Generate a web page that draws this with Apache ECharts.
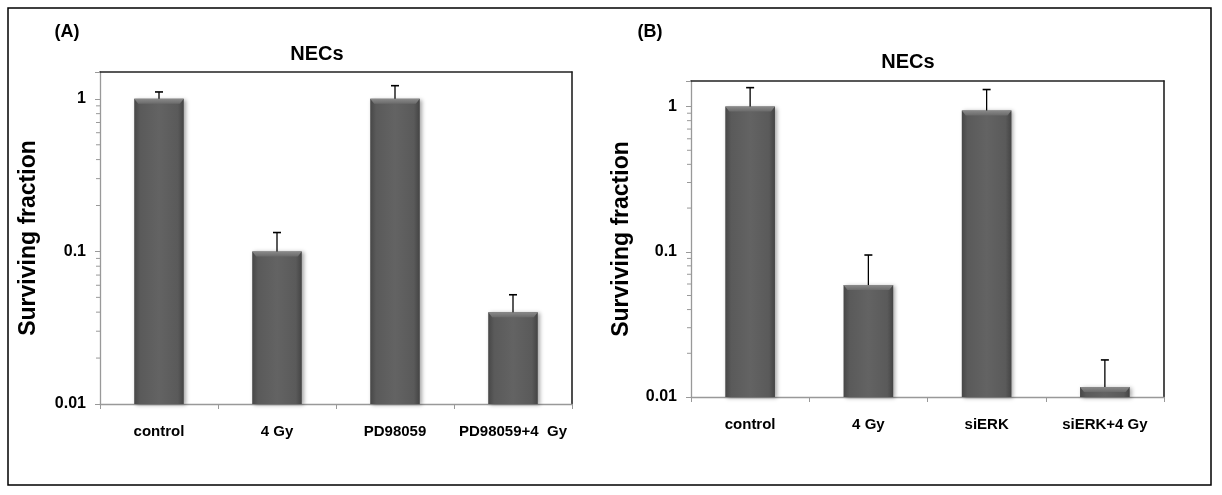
<!DOCTYPE html>
<html><head><meta charset="utf-8">
<script src="https://cdn.jsdelivr.net/npm/echarts@6/dist/echarts.min.js"></script>
<style>html,body{margin:0;padding:0;background:#fff}#c{width:1222px;height:495px}</style>
</head><body><div id="c"></div>
<script>
// ---- data ----
const categoriesA = ['control', '4 Gy', 'PD98059', 'PD98059+4  Gy'];
const valuesA = [1.0, 0.1, 1.0, 0.04];
const errTopA = [1.11, 0.133, 1.22, 0.052];

const categoriesB = ['control', '4 Gy', 'siERK', 'siERK+4 Gy'];
const valuesB = [1.0, 0.059, 0.94, 0.0117];
const errTopB = [1.35, 0.095, 1.31, 0.018];

const yTickLabels = ['0.01', '0.1', '1'];
const minorTickValues = [0.02, 0.03, 0.04, 0.05, 0.06, 0.07, 0.08, 0.09,
                         0.2, 0.3, 0.4, 0.5, 0.6, 0.7, 0.8, 0.9];
const yMin = 0.01, yMax = 1.5;
const panelTitles = ['NECs', 'NECs'];
const panelLetters = ['(A)', '(B)'];
const yAxisName = 'Surviving fraction';

// ---- helpers ----
const FONT = "Liberation Sans";
function fmtLog(v) {
  for (const s of yTickLabels) {
    const n = parseFloat(s);
    if (Math.abs(v - n) / n < 1e-6) return s;
  }
  return '';
}
const barColor = {
  type: 'linear', x: 0, y: 0, x2: 1, y2: 0,
  colorStops: [
    { offset: 0, color: '#474747' },
    { offset: 0.12, color: '#5a5a5a' },
    { offset: 0.5, color: '#636363' },
    { offset: 0.88, color: '#5a5a5a' },
    { offset: 1, color: '#444444' }
  ]
};
function errRender(params, api) {
  const i = api.value(0), v = api.value(1), t = api.value(2);
  const p0 = api.coord([i, v]);
  const p1 = api.coord([i, t]);
  const cap = 4;
  return { type: 'group', children: [
    { type: 'line', shape: { x1: p0[0], y1: p0[1], x2: p1[0], y2: p1[1] }, style: { stroke: '#000', lineWidth: 1.3 } },
    { type: 'line', shape: { x1: p1[0] - cap, y1: p1[1], x2: p1[0] + cap, y2: p1[1] }, style: { stroke: '#000', lineWidth: 1.6 } }
  ] };
}
// light bevel on the top of each bar
function bevelRender(params, api) {
  const i = api.value(0), v = api.value(1);
  const p = api.coord([i, v]);
  const w = api.size([1, 0])[0] * 0.42;
  const h = Math.min(5, api.coord([i, yMin])[1] - p[1]);
  return { type: 'polygon', shape: { points: [[p[0] - w / 2, p[1]], [p[0] + w / 2, p[1]], [p[0] + w / 2 - 4, p[1] + h], [p[0] - w / 2 + 4, p[1] + h]] },
    style: { fill: { type: 'linear', x: 0, y: 0, x2: 0, y2: 1, colorStops: [{ offset: 0, color: '#8a8a8a' }, { offset: 1, color: '#6a6a6a' }] } } };
}
function minorRender(params, api) {
  const v = api.value(1);
  const p = api.coord([0, v]);
  const half = api.size([1, 0])[0] / 2;
  const x = p[0] - half;
  return { type: 'line', shape: { x1: x - 4, y1: p[1], x2: x, y2: p[1] }, style: { stroke: '#999', lineWidth: 1 } };
}

const grids = [
  { left: 100, top: 72, width: 472, height: 332, nameGap: 60 },
  { left: 691, top: 81, width: 473, height: 316, nameGap: 58 }
];
const cats = [categoriesA, categoriesB];
const vals = [valuesA, valuesB];
const errs = [errTopA, errTopB];

const option = {
  animation: false,
  backgroundColor: '#fff',
  grid: grids.map(g => ({ left: g.left, top: g.top, width: g.width, height: g.height, containLabel: false })),
  xAxis: [],
  yAxis: [],
  series: [],
  graphic: []
};

grids.forEach((g, k) => {
  option.xAxis.push({
    type: 'category', gridIndex: k, data: cats[k], position: 'bottom',
    axisLine: { lineStyle: { color: '#999', width: 1.3 } },
    axisTick: { show: true, length: 5, lineStyle: { color: '#999' } },
    axisLabel: { color: '#000', fontFamily: FONT, fontWeight: 'bold', fontSize: 15, margin: 20, interval: 0 },
    splitLine: { show: false }
  });
  option.xAxis.push({
    type: 'category', gridIndex: k, data: cats[k], position: 'top',
    axisLine: { lineStyle: { color: '#222', width: 1.6 } },
    axisTick: { show: false }, axisLabel: { show: false }, splitLine: { show: false }
  });
  option.yAxis.push({
    type: 'log', logBase: 10, gridIndex: k, min: yMin, max: yMax, startValue: yMin, position: 'left',
    name: yAxisName, nameLocation: 'middle', nameGap: g.nameGap,
    nameTextStyle: { color: '#000', fontFamily: FONT, fontWeight: 'bold', fontSize: 23 },
    axisLine: { show: true, lineStyle: { color: '#999', width: 1.3 } },
    axisTick: { show: true, length: 5, lineStyle: { color: '#999' } },
    axisLabel: { color: '#000', fontFamily: FONT, fontWeight: 'bold', fontSize: 16, margin: 14, formatter: fmtLog },
    splitLine: { show: false }, minorTick: { show: false }
  });
  option.yAxis.push({
    type: 'log', logBase: 10, gridIndex: k, min: yMin, max: yMax, position: 'right',
    axisLine: { show: true, lineStyle: { color: '#222', width: 1.6 } },
    axisTick: { show: false }, axisLabel: { show: false }, splitLine: { show: false }
  });

  option.series.push({
    type: 'bar', xAxisIndex: 2 * k, yAxisIndex: 2 * k, data: vals[k], barWidth: '42%',
    itemStyle: { color: barColor, shadowColor: 'rgba(0,0,0,0.35)', shadowBlur: 4, shadowOffsetX: 2, shadowOffsetY: 1 },
    z: 2
  });
  option.series.push({
    type: 'custom', xAxisIndex: 2 * k, yAxisIndex: 2 * k, renderItem: bevelRender, clip: false, z: 3,
    data: vals[k].map((v, i) => [i, v])
  });
  option.series.push({
    type: 'custom', xAxisIndex: 2 * k, yAxisIndex: 2 * k, renderItem: errRender, clip: false, z: 4,
    data: vals[k].map((v, i) => [i, v, errs[k][i]])
  });
  option.series.push({
    type: 'custom', xAxisIndex: 2 * k, yAxisIndex: 2 * k, renderItem: minorRender, clip: false, z: 3,
    data: minorTickValues.map(v => [0, v])
  });
});

option.graphic = [
  { type: 'rect', shape: { x: 8, y: 8, width: 1203, height: 477 }, style: { fill: 'none', stroke: '#000', lineWidth: 1.5 }, silent: true },
  { type: 'text', x: 67, y: 32, style: { text: panelLetters[0], font: 'bold 18px ' + FONT, fill: '#000', textAlign: 'center', textVerticalAlign: 'middle' } },
  { type: 'text', x: 650, y: 32, style: { text: panelLetters[1], font: 'bold 18px ' + FONT, fill: '#000', textAlign: 'center', textVerticalAlign: 'middle' } },
  { type: 'text', x: 317, y: 54, style: { text: panelTitles[0], font: 'bold 20px ' + FONT, fill: '#000', textAlign: 'center', textVerticalAlign: 'middle' } },
  { type: 'text', x: 908, y: 62, style: { text: panelTitles[1], font: 'bold 20px ' + FONT, fill: '#000', textAlign: 'center', textVerticalAlign: 'middle' } }
];

const chart = echarts.init(document.getElementById('c'), null, { renderer: 'canvas' });
chart.setOption(option);
</script>
</body></html>
